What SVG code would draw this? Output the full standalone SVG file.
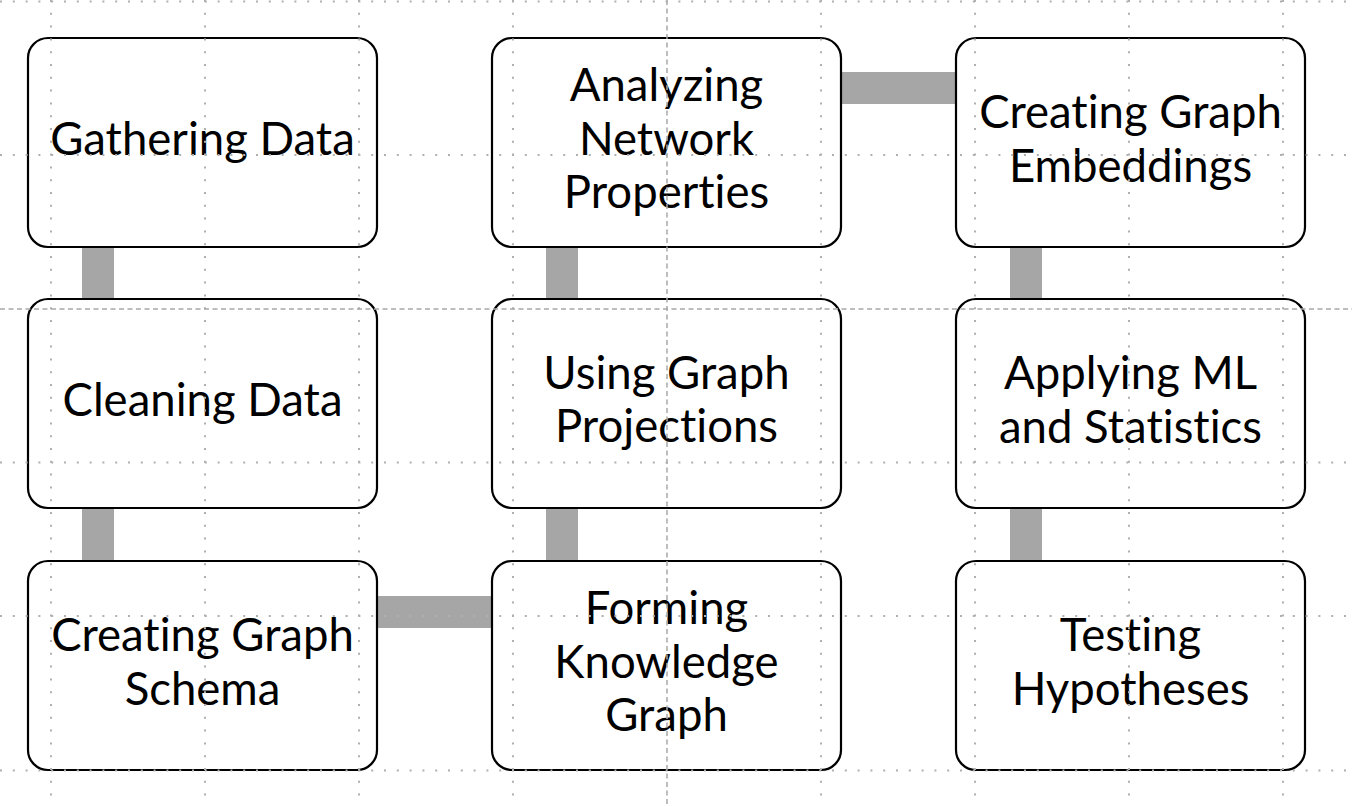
<svg xmlns="http://www.w3.org/2000/svg" width="1352" height="806" viewBox="0 0 1352 806">
<style>
.box{fill:#ffffff;stroke:#000000;stroke-width:2.2}
.lbl{font-family:Lato,"Liberation Sans",Arial,sans-serif;font-size:45.5px;fill:#000000;text-anchor:middle;font-variant-ligatures:none;font-feature-settings:"liga" 0}
.conn{stroke:#a6a6a6;stroke-width:32;fill:none}
.dot{stroke:#b0b0b0;stroke-width:2;stroke-dasharray:2 10.8;fill:none}
.dash{stroke:#a8a8a8;stroke-width:1.5;stroke-dasharray:5 3.5;fill:none}
</style>
<rect width="1352" height="806" fill="#ffffff"/>
<g id="connectors">
<line class="conn" x1="98" y1="247" x2="98" y2="299"/>
<line class="conn" x1="98" y1="508" x2="98" y2="561"/>
<line class="conn" x1="377" y1="612" x2="492" y2="612"/>
<line class="conn" x1="562" y1="561" x2="562" y2="508"/>
<line class="conn" x1="562" y1="299" x2="562" y2="247"/>
<line class="conn" x1="841" y1="88" x2="956" y2="88"/>
<line class="conn" x1="1026" y1="247" x2="1026" y2="299"/>
<line class="conn" x1="1026" y1="508" x2="1026" y2="561"/>
</g>
<g id="n-gathering">
<rect class="box" x="28" y="38" width="349" height="209" rx="20"/>
<text class="lbl" x="202.5" y="154.5">Gathering Data</text>
</g>
<g id="n-cleaning">
<rect class="box" x="28" y="299" width="349" height="209" rx="20"/>
<text class="lbl" x="202.5" y="416">Cleaning Data</text>
</g>
<g id="n-schema">
<rect class="box" x="28" y="561" width="349" height="209" rx="20"/>
<text class="lbl" x="202.5" y="651">Creating Graph</text>
<text class="lbl" x="202.5" y="705">Schema</text>
</g>
<g id="n-knowledge">
<rect class="box" x="492" y="561" width="349" height="209" rx="20"/>
<text class="lbl" x="666.5" y="623.5">Forming</text>
<text class="lbl" x="666.5" y="678">Knowledge</text>
<text class="lbl" x="666.5" y="731">Graph</text>
</g>
<g id="n-projections">
<rect class="box" x="492" y="299" width="349" height="209" rx="20"/>
<text class="lbl" x="666.5" y="389">Using Graph</text>
<text class="lbl" x="666.5" y="442">Projections</text>
</g>
<g id="n-analyzing">
<rect class="box" x="492" y="38" width="349" height="209" rx="20"/>
<text class="lbl" x="666.5" y="101">Analyzing</text>
<text class="lbl" x="666.5" y="154.5">Network</text>
<text class="lbl" x="666.5" y="208">Properties</text>
</g>
<g id="n-embeddings">
<rect class="box" x="956" y="38" width="349" height="209" rx="20"/>
<text class="lbl" x="1130.5" y="127.5">Creating Graph</text>
<text class="lbl" x="1130.5" y="181.5">Embeddings</text>
</g>
<g id="n-ml">
<rect class="box" x="956" y="299" width="349" height="209" rx="20"/>
<text class="lbl" x="1130.5" y="389">Applying ML</text>
<text class="lbl" x="1130.5" y="443">and Statistics</text>
</g>
<g id="n-testing">
<rect class="box" x="956" y="561" width="349" height="209" rx="20"/>
<text class="lbl" x="1130.5" y="651">Testing</text>
<text class="lbl" x="1130.5" y="705">Hypotheses</text>
</g>
<g id="grid">
<line class="dot" x1="51" y1="0" x2="51" y2="806"/>
<line class="dot" x1="205" y1="0" x2="205" y2="806"/>
<line class="dot" x1="359" y1="0" x2="359" y2="806"/>
<line class="dot" x1="513" y1="0" x2="513" y2="806"/>
<line class="dot" x1="821" y1="0" x2="821" y2="806"/>
<line class="dot" x1="975" y1="0" x2="975" y2="806"/>
<line class="dot" x1="1129" y1="0" x2="1129" y2="806"/>
<line class="dot" x1="1283" y1="0" x2="1283" y2="806"/>
<line class="dot" x1="0" y1="1.5" x2="1352" y2="1.5"/>
<line class="dot" x1="0" y1="155" x2="1352" y2="155"/>
<line class="dot" x1="0" y1="462.5" x2="1352" y2="462.5"/>
<line class="dot" x1="0" y1="616" x2="1352" y2="616"/>
<line class="dot" x1="0" y1="770.5" x2="1352" y2="770.5"/>
<line class="dash" x1="667" y1="0" x2="667" y2="806"/>
<line class="dash" x1="0" y1="309" x2="1352" y2="309"/>
</g>
</svg>
